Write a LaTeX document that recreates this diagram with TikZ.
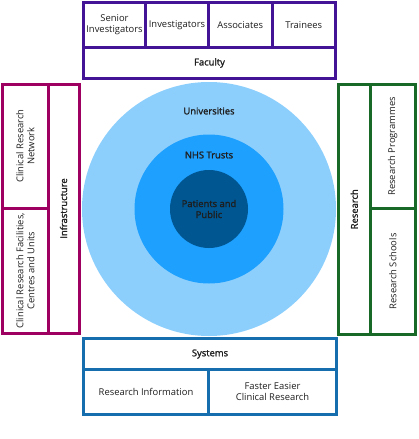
\documentclass[tikz,border=0pt]{standalone}
\usepackage{fontspec}
\setmainfont{Open Sans}
\newfontfamily\semib{Open Sans}[RawFeature={embolden=1.6}]
\definecolor{facpurple}{RGB}{68,20,150}
\definecolor{infmag}{RGB}{158,0,98}
\definecolor{resgreen}{RGB}{24,104,40}
\definecolor{sysblue}{RGB}{22,110,175}
\definecolor{uni}{RGB}{141,207,252}
\definecolor{nhs}{RGB}{30,160,255}
\definecolor{pat}{RGB}{0,86,145}
\definecolor{txt}{RGB}{30,30,30}
\tikzset{
  box/.style={draw, line width=3pt, rectangle, inner sep=1pt, align=center,
    text=txt, font=\fontsize{9.4}{11}\selectfont},
  mainlbl/.style={font=\fontsize{9.4}{11}\selectfont\semib},
  circlbl/.style={text=txt, align=center, font=\fontsize{9.4}{11}\selectfont\semib},
}
\begin{document}
\begin{tikzpicture}[x=1pt,y=-1pt]
\useasboundingbox (0,0) rectangle (418,439);
% circles
\fill[uni] (209,209) circle (127);
\fill[nhs] (209,209) circle (74.5);
\fill[pat] (209,209) circle (39);
\node[circlbl] (univ) at (209,111) {Universities};
\node[circlbl] (nhst) at (209,155) {NHS Trusts};
\node[circlbl] (pp) at (209,209) {Patients and\\Public};
% top: Faculty
\begin{scope}[every node/.append style={draw=facpurple}]
\node[box, minimum width=62, minimum height=45] (senior) at (114.5,25) {Senior\\Investigators};
\node[box, minimum width=63, minimum height=45] (invest) at (177,25) {Investigators};
\node[box, minimum width=63.5, minimum height=45] (assoc) at (240.25,25) {Associates};
\node[box, minimum width=63.5, minimum height=45] (train) at (303.75,25) {Trainees};
\node[box, mainlbl, minimum width=252, minimum height=31] (faculty) at (209.5,63) {Faculty};
\end{scope}
% left: Infrastructure
\begin{scope}[every node/.append style={draw=infmag}]
\node[box, rotate=90, minimum width=124.5, minimum height=45.5] (crn) at (25.25,146.25) {Clinical Research\\Network};
\node[box, rotate=90, minimum width=124.5, minimum height=45.5] (crf) at (25.25,270.75) {Clinical Research Facilities,\\Centres and Units};
\node[box, mainlbl, rotate=90, minimum width=249, minimum height=31] (infra) at (63.5,208.5) {Infrastructure};
\end{scope}
% right: Research
\begin{scope}[every node/.append style={draw=resgreen}]
\node[box, mainlbl, rotate=90, minimum width=250.5, minimum height=31.5] (research) at (354.25,209.25) {Research};
\node[box, rotate=90, minimum width=124.5, minimum height=45.5] (rprog) at (392.75,146.25) {Research Programmes};
\node[box, rotate=90, minimum width=126, minimum height=45.5] (rsch) at (392.75,271.5) {Research Schools};
\end{scope}
% bottom: Systems
\begin{scope}[every node/.append style={draw=sysblue}]
\node[box, mainlbl, minimum width=253, minimum height=31] (systems) at (210,354) {Systems};
\node[box, minimum width=125, minimum height=45] (rinfo) at (146,392) {Research Information};
\node[box, minimum width=128, minimum height=45] (fecr) at (272.5,392) {Faster Easier\\Clinical Research};
\end{scope}
\end{tikzpicture}
\end{document}
